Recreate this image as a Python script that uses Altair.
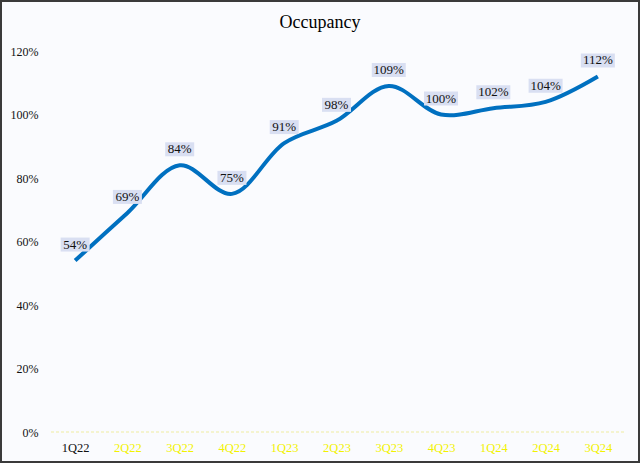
import json
import altair as alt
import pandas as pd

quarters = ["1Q22", "2Q22", "3Q22", "4Q22", "1Q23", "2Q23", "3Q23", "4Q23", "1Q24", "2Q24", "3Q24"]
occupancy = [0.54, 0.69, 0.84, 0.75, 0.91, 0.98, 1.09, 1.00, 1.02, 1.04, 1.12]
y_ticks = [0, 0.2, 0.4, 0.6, 0.8, 1.0, 1.2]
chart_title = "Occupancy"

df = pd.DataFrame({
    "idx": list(range(len(quarters))),
    "quarter": quarters,
    "occ": occupancy,
    "label": [f"{round(v * 100)}%" for v in occupancy],
})
df["wide"] = df["label"].str.len() > 3

SERIF = "Liberation Serif"
label_expr = json.dumps(quarters) + "[datum.value]"

x_enc = alt.X(
    "idx:Q",
    scale=alt.Scale(domain=[-0.5, len(quarters) - 0.5], nice=False, zero=False),
    axis=alt.Axis(
        values=list(range(len(quarters))),
        labelExpr=label_expr,
        title=None,
        grid=False,
        domain=False,
        ticks=False,
        labelFont=SERIF,
        labelFontSize=12.5,
        labelPadding=9,
        labelColor={"expr": "datum.value == 0 ? '#111111' : '#f2f200'"},
    ),
)
y_enc = alt.Y(
    "occ:Q",
    scale=alt.Scale(domain=[0, 1.2], nice=False),
    axis=alt.Axis(
        values=y_ticks,
        format=".0%",
        title=None,
        grid=False,
        domain=False,
        ticks=False,
        labelFont=SERIF,
        labelFontSize=12,
        labelColor="#111111",
        labelPadding=11,
    ),
)

base = alt.Chart(df)

border = base.mark_rect(fill=None, stroke="#3a3a3a", strokeWidth=2).encode(
    x=alt.value(-48), x2=alt.value(590), y=alt.value(-50), y2=alt.value(411)
).transform_filter("datum.idx == 0")

title_mark = alt.Chart(pd.DataFrame({"t": [chart_title]})).mark_text(
    font=SERIF, fontSize=18, color="#000000", align="center", baseline="alphabetic"
).encode(x=alt.value(271), y=alt.value(-23), text="t:N")

baseline = alt.Chart(pd.DataFrame({"z": [0]})).mark_rule(
    color="#efeca0", strokeDash=[3, 2], strokeWidth=1
).encode(y=alt.Y("z:Q", scale=alt.Scale(domain=[0, 1.2], nice=False)))

line = base.mark_line(
    interpolate="catmull-rom", color="#0070C0", strokeWidth=4, strokeCap="butt"
).encode(x=x_enc, y=y_enc)

box_narrow = base.mark_rect(width=29, height=14, yOffset=-16, color="#d9dff2").encode(
    x="idx:Q", y="occ:Q"
).transform_filter("!datum.wide")
box_wide = base.mark_rect(width=34, height=14, yOffset=-16, color="#d9dff2").encode(
    x="idx:Q", y="occ:Q"
).transform_filter("datum.wide")

labels = base.mark_text(
    font=SERIF, fontSize=13, dy=-16, color="#111111", baseline="middle", align="center"
).encode(x="idx:Q", y="occ:Q", text="label:N")

chart = alt.layer(baseline, line, box_narrow, box_wide, labels, title_mark, border).properties(
    width=575,
    height=381,
    autosize=alt.AutoSizeParams(type="none"),
    padding={"left": 49, "top": 51, "right": 16, "bottom": 31},
    background="#fafbfe",
).configure_view(stroke=None)

chart.save("out.html", embed_options={"renderer": "svg", "actions": False})
